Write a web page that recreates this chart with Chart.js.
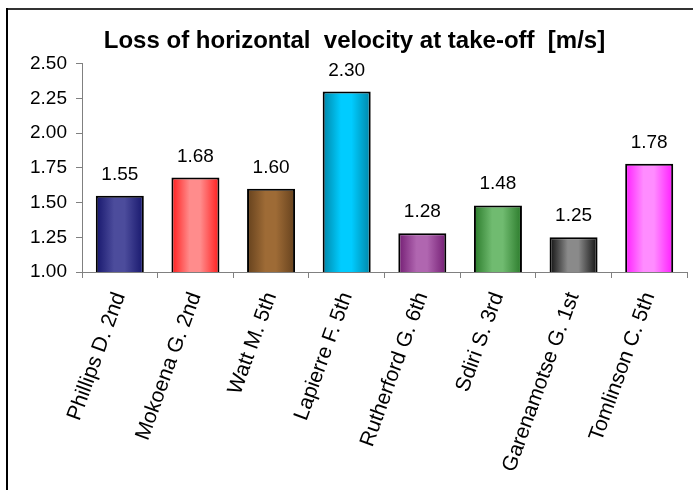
<!DOCTYPE html>
<html>
<head>
<meta charset="utf-8">
<script src="https://cdn.jsdelivr.net/npm/chart.js@4.4.0/dist/chart.umd.min.js"></script>
<style>
  html, body { margin: 0; padding: 0; background: #fff; }
  #wrap { position: relative; width: 693px; height: 490px; }
  canvas { display: block; }
</style>
</head>
<body>
<div id="wrap"><canvas id="c" width="693" height="490"></canvas></div>
<script>
const chartTitle = "Loss of horizontal  velocity at take-off  [m/s]";
const categories = ["Phillips D. 2nd", "Mokoena G. 2nd", "Watt M. 5th", "Lapierre F. 5th",
                    "Rutherford G. 6th", "Sdiri S. 3rd", "Garenamotse G. 1st", "Tomlinson C. 5th"];
const values = [1.55, 1.68, 1.60, 2.30, 1.28, 1.48, 1.25, 1.78];
const yTicks = [1.00, 1.25, 1.50, 1.75, 2.00, 2.25, 2.50];
const edgeColors = ["#16166c", "#ff1c1c", "#65411d", "#0086a8", "#731d73", "#2a7a2a", "#101010", "#ff1cff"];
const centerColors = ["#4c4c9c", "#ff8c8c", "#9e6b36", "#00ccff", "#b066b0", "#70bb70", "#8a8a8a", "#ff8cff"];

const BAR_PCT = 0.635;
const FONT = "'Liberation Sans', Arial, sans-serif";

function barGradient(ctx) {
  const chart = ctx.chart;
  const i = ctx.dataIndex;
  const xs = chart.scales && chart.scales.x;
  if (!xs || !chart.chartArea || i === undefined) return centerColors[i] || '#888';
  const cx = xs.getPixelForValue(i);
  const half = xs.width / categories.length * BAR_PCT / 2;
  const g = chart.ctx.createLinearGradient(cx - half, 0, cx + half, 0);
  g.addColorStop(0, edgeColors[i]);
  g.addColorStop(0.38, centerColors[i]);
  g.addColorStop(0.6, centerColors[i]);
  g.addColorStop(1, edgeColors[i]);
  return g;
}

const framePlugin = {
  id: 'frame',
  beforeDraw(chart) {
    const c = chart.ctx;
    c.save();
    c.fillStyle = '#ffffff';
    c.fillRect(0, 0, chart.width, chart.height);
    c.fillStyle = '#333333';
    c.fillRect(6, 8, chart.width, 2);
    c.fillStyle = '#000000';
    c.fillRect(6, 8, 2, chart.height);
    c.restore();
  }
};

const labelPlugin = {
  id: 'valueLabels',
  afterDatasetsDraw(chart) {
    const c = chart.ctx;
    const meta = chart.getDatasetMeta(0);
    c.save();
    c.font = "19px " + FONT;
    c.fillStyle = '#000';
    c.textAlign = 'center';
    c.textBaseline = 'alphabetic';
    meta.data.forEach((el, i) => {
      c.fillText(values[i].toFixed(2), el.x, el.y - 16);
    });
    c.restore();
  }
};

new Chart(document.getElementById('c'), {
  type: 'bar',
  data: {
    labels: categories,
    datasets: [{
      data: values,
      backgroundColor: barGradient,
      borderColor: '#000000',
      borderWidth: 2,
      borderSkipped: false,
      barPercentage: BAR_PCT,
      categoryPercentage: 1.0
    }]
  },
  options: {
    responsive: false,
    animation: false,
    devicePixelRatio: 1,
    layout: { padding: { left: 22, right: 6, top: 0, bottom: 0 } },
    plugins: {
      legend: { display: false },
      tooltip: { enabled: false },
      title: {
        display: true,
        text: chartTitle,
        color: '#000',
        font: { family: FONT, size: 24, weight: 'bold' },
        padding: { top: 27, bottom: 8 }
      }
    },
    scales: {
      x: {
        grid: { display: true, drawOnChartArea: false, drawTicks: true, tickLength: 6, color: '#808080', offset: true },
        border: { display: true, color: '#808080', width: 1 },
        ticks: {
          color: '#000',
          font: { family: FONT, size: 21 },
          minRotation: 70, maxRotation: 70,
          autoSkip: false,
          padding: 11
        },
        afterFit(scale) { scale.height = 218; }
      },
      y: {
        min: 1.0, max: 2.5,
        grid: { display: true, drawOnChartArea: false, drawTicks: true, tickLength: 6, color: '#808080' },
        border: { display: true, color: '#808080', width: 1 },
        afterBuildTicks(scale) { scale.ticks = yTicks.map(v => ({ value: v })); },
        ticks: {
          color: '#000',
          font: { family: FONT, size: 19 },
          padding: 9,
          callback: (v) => Number(v).toFixed(2)
        },
        afterFit(scale) { scale.width = 60; }
      }
    }
  },
  plugins: [framePlugin, labelPlugin]
});
</script>
</body>
</html>
